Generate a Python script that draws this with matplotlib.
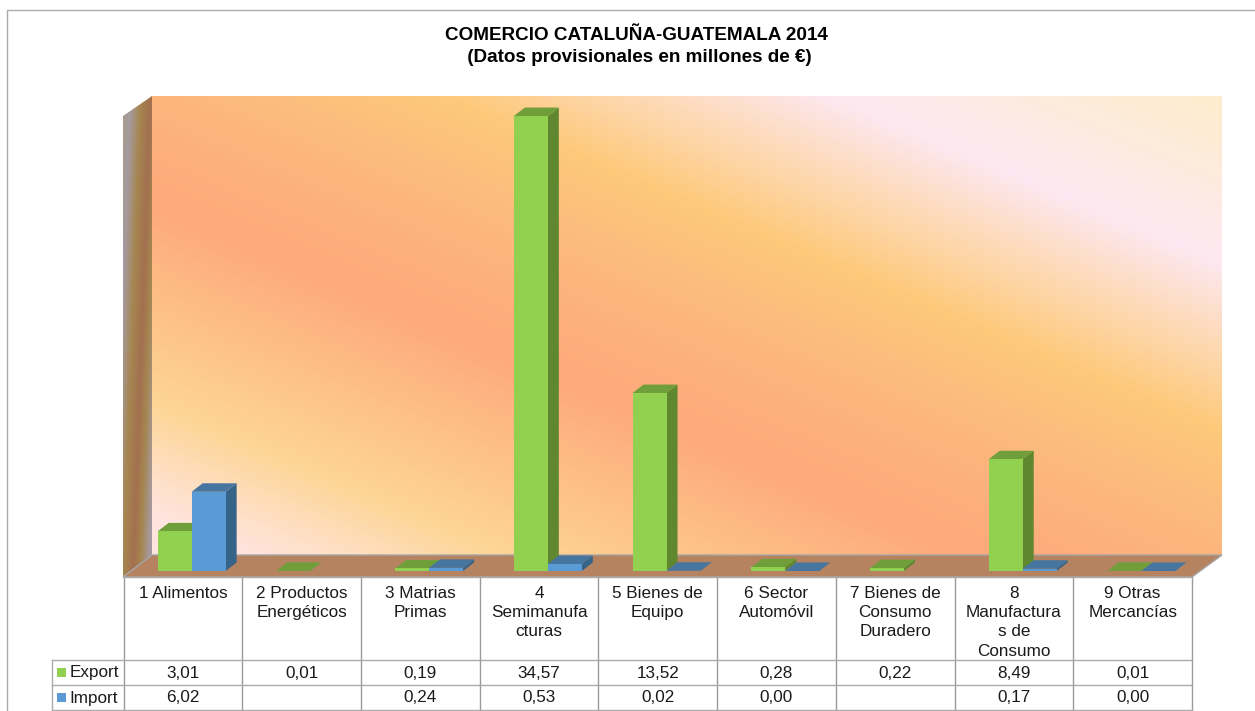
import numpy as np
import matplotlib
matplotlib.use("Agg")
import matplotlib.pyplot as plt
from matplotlib.colors import LinearSegmentedColormap
from matplotlib.patches import Polygon

plt.rcParams["font.family"] = ["Liberation Sans", "DejaVu Sans"]

TITLE = "COMERCIO CATALUÑA-GUATEMALA 2014\n (Datos provisionales en millones de €)"
CATEGORIES = [
    "1 Alimentos",
    "2 Productos\nEnergéticos",
    "3 Matrias\nPrimas",
    "4\nSemimanufa\ncturas",
    "5 Bienes de\nEquipo",
    "6 Sector\nAutomóvil",
    "7 Bienes de\nConsumo\nDuradero",
    "8\nManufactura\ns de\nConsumo",
    "9 Otras\nMercancías",
]
EXPORT = [3.01, 0.01, 0.19, 34.57, 13.52, 0.28, 0.22, 8.49, 0.01]
IMPORT = [6.02, None, 0.24, 0.53, 0.02, 0.00, None, 0.17, 0.00]

# chart geometry, in pixels of the 1255x711 picture
W, H = 1255, 711
COL_LEFT, COL_RIGHT = 123.5, 1192
BASE_Y, WALL_TOP = 571, 96
PX_PER_UNIT = 13.16
DEPTH_X, DEPTH_Y = 11, 8.5
BAR_W = 0.2864
BAR_SHIFT = 0.074

GREEN = ("#92D14F", "#6F9E3A", "#5E8730")
BLUE = ("#5B9BD5", "#46759F", "#366388")
GRID = "#9A9A9A"
TEXT_SIZE = 12.3

fig = plt.figure(figsize=(W / 100, H / 100), dpi=100, facecolor="white")

# backdrop axes works in picture pixels
bg = fig.add_axes([0, 0, 1, 1])
bg.set_xlim(0, W)
bg.set_ylim(H, 0)
bg.axis("off")

# chart frame
bg.plot([7, 7, W], [H, 10, 10], color="#ABABAB", lw=1)

# back wall gradient, bands run along s = y - 0.43 * x
xs = np.linspace(152, 1222, 540)
ys = np.linspace(96, 555, 240)
xx, yy = np.meshgrid(xs, ys)
ss = yy - 0.43 * xx
s_min, s_max = -440.0, 500.0
wall_stops = [
    (-440, "#FDEDCB"), (-350, "#FEEBDD"), (-265, "#FDE8F2"), (-180, "#FDD9B4"),
    (-95, "#FDC97A"), (25, "#FCB67E"), (137, "#FEA97A"), (240, "#FDC087"),
    (338, "#FDD595"), (413, "#FFE0C8"), (448, "#FFE3DC"), (500, "#FFE6E0"),
]
wall_cmap = LinearSegmentedColormap.from_list(
    "wall", [((s - s_min) / (s_max - s_min), c) for s, c in wall_stops]
)
bg.imshow(ss, extent=(152, 1222, 555, 96), cmap=wall_cmap, vmin=s_min, vmax=s_max,
          aspect="auto", zorder=1)

# left wall, bands drift left going down
xs = np.linspace(123, 152, 60)
ys = np.linspace(96, 577, 240)
xx, yy = np.meshgrid(xs, ys)
uu = (xx - 123) / 29 + 0.00125 * (yy - 96)
u_max = 1.6
side_stops = [(0, "#A89A8C"), (0.25, "#A59AA0"), (0.6, "#A68650"), (0.95, "#A3704F"),
              (1.2, "#A68650"), (1.5, "#A59AA0"), (1.6, "#A59AA0")]
side_cmap = LinearSegmentedColormap.from_list("side", [(u / u_max, c) for u, c in side_stops])
side_img = bg.imshow(uu, extent=(123, 152, 577, 96), cmap=side_cmap, vmin=0, vmax=u_max,
                     aspect="auto", zorder=1)
side_poly = Polygon([(123, 116), (152, 96), (152, 555), (123, 577)], transform=bg.transData,
                    facecolor="none", edgecolor="none")
bg.add_patch(side_poly)
side_img.set_clip_path(side_poly)
bg.set_xlim(0, W)
bg.set_ylim(H, 0)

# floor
bg.add_patch(Polygon([(123, 577), (152, 555), (1222, 555), (1192, 577)],
                     facecolor="#B58360", edgecolor="#A6A6A6", lw=1, zorder=2))

# table lines
COL_EDGES = np.linspace(COL_LEFT, COL_RIGHT, len(CATEGORIES) + 1)
ROW_EDGES = [577, 659.5, 685, 710]
for x in COL_EDGES:
    bg.plot([x, x], [ROW_EDGES[0], ROW_EDGES[-1]], color=GRID, lw=1, zorder=3)
for y in ROW_EDGES[1:]:
    bg.plot([52, COL_RIGHT], [y, y], color="#ABABAB", lw=1, zorder=3)
bg.plot([COL_LEFT, COL_RIGHT], [577, 577], color="#ABABAB", lw=1, zorder=3)
bg.plot([52, 52], [ROW_EDGES[1], ROW_EDGES[-1]], color="#ABABAB", lw=1, zorder=3)

# table text
def fmt(v):
    return "" if v is None else f"{v:.2f}".replace(".", ",")

centres = (COL_EDGES[:-1] + COL_EDGES[1:]) / 2
for cx, name, e, i in zip(centres, CATEGORIES, EXPORT, IMPORT):
    bg.text(cx, 586, name, ha="center", va="top", fontsize=TEXT_SIZE, color="#1A1A1A",
            linespacing=1.35, zorder=4)
    bg.text(cx, 673, fmt(e), ha="center", va="center", fontsize=TEXT_SIZE, color="#1A1A1A", zorder=4)
    bg.text(cx, 698, fmt(i), ha="center", va="center", fontsize=TEXT_SIZE, color="#1A1A1A", zorder=4)

# legend keys in the table
for y, label, col in [(672.5, "Export", GREEN[0]), (697.5, "Import", BLUE[0])]:
    bg.add_patch(Polygon([(57, y - 4.5), (66, y - 4.5), (66, y + 4.5), (57, y + 4.5)],
                         facecolor=col, edgecolor="none", zorder=4))
    bg.text(69.5, y + 0.5, label, ha="left", va="center", fontsize=TEXT_SIZE, color="#1A1A1A", zorder=4)

bg.text(636.5, 46.5, TITLE, ha="center", va="center", fontsize=13.6, fontweight="bold",
        color="black", linespacing=1.4, zorder=4)

# data axes for the bars, same pixels as the table columns
ax = fig.add_axes([COL_LEFT / W, 1 - BASE_Y / H, (COL_RIGHT - COL_LEFT) / W, (BASE_Y - WALL_TOP) / H])
ax.set_xlim(0, len(CATEGORIES))
ax.set_ylim(0, (BASE_Y - WALL_TOP) / PX_PER_UNIT)
ax.axis("off")
ax.patch.set_alpha(0)

dx = DEPTH_X / ((COL_RIGHT - COL_LEFT) / len(CATEGORIES))
dy = DEPTH_Y / PX_PER_UNIT


def draw_bars(values, offset, colors, zorder):
    for k, v in enumerate(values):
        if v is None:
            continue
        x0 = k + 0.5 + BAR_SHIFT + offset
        x1 = x0 + BAR_W
        ax.add_patch(Polygon([(x1, 0), (x1 + dx, dy), (x1 + dx, v + dy), (x1, v)],
                             facecolor=colors[2], edgecolor="none", zorder=zorder, clip_on=False))
        ax.add_patch(Polygon([(x0, v), (x0 + dx, v + dy), (x1 + dx, v + dy), (x1, v)],
                             facecolor=colors[1], edgecolor="none", zorder=zorder, clip_on=False))
        ax.bar(x0, v, width=BAR_W, align="edge", color=colors[0], zorder=zorder, clip_on=False)


draw_bars(EXPORT, -BAR_W, GREEN, 3)
draw_bars(IMPORT, 0, BLUE, 4)

fig.savefig("out.png", dpi=100)
